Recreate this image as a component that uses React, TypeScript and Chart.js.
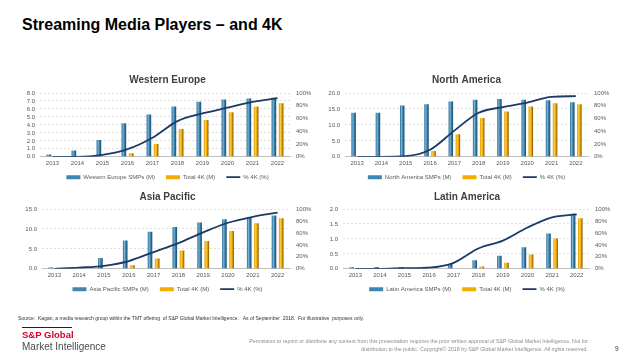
import React, { useEffect, useRef } from 'react';
import { Chart, registerables } from 'chart.js';

Chart.register(...registerables);

const FONT = "'Liberation Sans', Arial, Helvetica, sans-serif";
Chart.defaults.font.family = FONT;

// ---------- data ----------
const years = ['2013', '2014', '2015', '2016', '2017', '2018', '2019', '2020', '2021', '2022'];

const weSmp = [0.3, 0.8, 2.1, 4.2, 5.3, 6.3, 6.9, 7.2, 7.3, 7.4];
const we4k = [0, 0, 0.05, 0.45, 1.6, 3.5, 4.6, 5.6, 6.3, 6.7];
const wePct = [0, 0, 3, 12, 30, 56, 68, 77, 86, 92];

const naSmp = [13.8, 13.8, 16.1, 16.5, 17.3, 17.9, 18.1, 17.9, 17.7, 17.1];
const na4k = [0, 0, 0.1, 1.8, 7.1, 12.2, 14.2, 15.8, 16.8, 16.5];
const naPct = [0, 0, 1, 11, 41, 69, 78, 85, 94, 95];

const apSmp = [0.35, 0.1, 2.7, 7.1, 9.3, 10.5, 11.6, 12.4, 13.0, 13.4];
const ap4k = [0, 0, 0.05, 0.9, 2.6, 4.6, 7.0, 9.5, 11.4, 12.7];
const apPct = [0, 2, 5, 13, 28, 43, 61, 77, 87, 94];

const laSmp = [0.05, 0.06, 0.06, 0.07, 0.16, 0.29, 0.44, 0.72, 1.18, 1.84];
const la4k = [0, 0, 0, 0, 0.01, 0.08, 0.2, 0.48, 1.01, 1.69];
const laPct = [0, 0, 1, 2, 10, 34, 47, 69, 86, 91];

// ---------- styles ----------
const CAT_PCT = 0.58;
const BAR_PCT = 0.64;
const BLUE_STOPS = ['#2A6890', '#74B4D8', '#3B82AD', '#1A4766'];
const GOLD_STOPS = ['#D89A00', '#FFCC40', '#F2AA00', '#7A5200'];
const BLUE = '#3F86B1';
const GOLD = '#F2AC00';
const NAVY = '#1B3A66';
const TXT = '#595959';

function barFill(stops: string[], side: number) {
  return (c: any) => {
    const chart = c.chart;
    const xs = chart.scales && chart.scales.x;
    if (!xs || c.type !== 'data' || !chart.chartArea) return stops[2];
    const n = chart.data.labels.length;
    const catW = xs.width / n;
    const chunk = (catW * CAT_PCT) / 2;
    const w = chunk * BAR_PCT;
    const cx = xs.getPixelForValue(c.dataIndex) + (side * chunk) / 2;
    const g = chart.ctx.createLinearGradient(cx - w / 2, 0, cx + w / 2, 0);
    g.addColorStop(0, stops[0]);
    g.addColorStop(0.35, stops[1]);
    g.addColorStop(0.6, stops[2]);
    g.addColorStop(1, stops[3]);
    return g;
  };
}

// moves the legend up, closer to the axis labels
const legendShift = {
  id: 'legendShift',
  afterLayout(chart: any, _args: any, opts: any) {
    const l = chart.legend;
    if (l) {
      l.top -= opts.dy || 0;
      l.bottom -= opts.dy || 0;
    }
  },
};

type PanelProps = {
  title: string;
  smpLabel: string;
  smp: number[];
  k4: number[];
  pct: number[];
  yMax: number;
  yStep: number;
  left: number;
  top: number;
  width: number;
  height: number;
  yW: number;
  titlePad: number;
};

function Panel(p: PanelProps) {
  const ref = useRef<HTMLCanvasElement>(null);
  useEffect(() => {
    if (!ref.current) return;
    const solid = [BLUE, GOLD, NAVY];
    const chart = new Chart(ref.current, {
      type: 'bar',
      plugins: [legendShift],
      data: {
        labels: years,
        datasets: [
          {
            type: 'bar',
            label: p.smpLabel,
            data: p.smp,
            backgroundColor: barFill(BLUE_STOPS, -1) as any,
            borderWidth: 0,
            categoryPercentage: CAT_PCT,
            barPercentage: BAR_PCT,
            yAxisID: 'y',
            order: 1,
            pointStyle: 'rect',
          } as any,
          {
            type: 'bar',
            label: 'Total 4K (M)',
            data: p.k4,
            backgroundColor: barFill(GOLD_STOPS, 1) as any,
            borderWidth: 0,
            categoryPercentage: CAT_PCT,
            barPercentage: BAR_PCT,
            yAxisID: 'y',
            order: 2,
            pointStyle: 'rect',
          } as any,
          {
            type: 'line',
            label: '% 4K (%)',
            data: p.pct,
            borderColor: NAVY,
            backgroundColor: NAVY,
            borderWidth: 1.8,
            pointRadius: 0,
            cubicInterpolationMode: 'monotone',
            yAxisID: 'y1',
            order: 0,
            pointStyle: 'line',
          } as any,
        ],
      },
      options: {
        responsive: false,
        animation: false,
        events: [],
        layout: { padding: 0 },
        plugins: {
          legendShift: { dy: 6.8 },
          title: {
            display: true,
            text: p.title,
            color: '#404040',
            font: { size: 10, weight: 'bold', family: FONT },
            padding: { top: 0, bottom: p.titlePad },
          },
          legend: {
            position: 'bottom',
            labels: {
              color: TXT,
              font: { size: 6, family: FONT },
              usePointStyle: true,
              pointStyleWidth: 14,
              boxHeight: 4,
              padding: 11,
              sort: (a: any, b: any) => a.datasetIndex - b.datasetIndex,
              generateLabels: (ch: any) => {
                const items = Chart.defaults.plugins.legend.labels.generateLabels(ch);
                return items.map((it: any) => {
                  const i = it.datasetIndex;
                  if (i < 2) {
                    it.fillStyle = solid[i];
                    it.strokeStyle = solid[i];
                    it.lineWidth = 0;
                  } else {
                    it.strokeStyle = NAVY;
                    it.lineWidth = 1.8;
                  }
                  it.fontColor = TXT;
                  return it;
                });
              },
            },
          },
          tooltip: { enabled: false },
        },
        scales: {
          x: {
            type: 'category',
            grid: { display: false, drawTicks: false },
            border: { display: true, color: '#BFBFBF', width: 1 },
            ticks: {
              color: TXT,
              font: { size: 6, family: FONT },
              padding: 3,
              maxRotation: 0,
              autoSkip: false,
            },
          },
          y: {
            position: 'left',
            min: 0,
            max: p.yMax,
            grid: { color: '#D9D9D9', lineWidth: 0.8, drawTicks: false },
            border: { display: false, dash: [2, 2] },
            ticks: {
              stepSize: p.yStep,
              autoSkip: false,
              color: TXT,
              font: { size: 6, family: FONT },
              padding: 5,
              callback: (v: any) => Number(v).toFixed(1),
            },
            afterFit: (s: any) => {
              s.width = p.yW;
            },
          },
          y1: {
            position: 'right',
            min: 0,
            max: 100,
            grid: { drawOnChartArea: false, drawTicks: false },
            border: { display: false },
            ticks: {
              stepSize: 20,
              autoSkip: false,
              color: TXT,
              font: { size: 6, family: FONT },
              padding: 6,
              callback: (v: any) => `${v}%`,
            },
            afterFit: (s: any) => {
              s.width = 25;
            },
          },
        },
      } as any,
    });
    return () => chart.destroy();
  }, []);
  return (
    <canvas
      ref={ref}
      width={p.width}
      height={p.height}
      style={{ position: 'absolute', left: p.left, top: p.top, width: p.width, height: p.height }}
    />
  );
}

export default function App() {
  return (
    <div
      style={{
        position: 'fixed',
        left: 0,
        top: 0,
        width: 640,
        height: 360,
        background: '#fff',
        overflow: 'hidden',
        fontFamily: FONT,
      }}
    >
      <div
        style={{
          position: 'absolute',
          left: 22,
          top: 16.5,
          fontSize: 16,
          lineHeight: '16px',
          fontWeight: 'bold',
          color: '#000',
          whiteSpace: 'nowrap',
        }}
      >
        Streaming Media Players – and 4K
      </div>

      <Panel title="Western Europe" smpLabel="Western Europe SMPs (M)" smp={weSmp} k4={we4k} pct={wePct}
        yMax={8} yStep={1} left={20} top={74} width={295} height={123} yW={20} titlePad={7} />
      <Panel title="North America" smpLabel="North America SMPs (M)" smp={naSmp} k4={na4k} pct={naPct}
        yMax={20} yStep={5} left={320} top={74} width={293} height={123} yW={25} titlePad={7} />
      <Panel title="Asia Pacific" smpLabel="Asia Pacific SMPs (M)" smp={apSmp} k4={ap4k} pct={apPct}
        yMax={15} yStep={5} left={20} top={191} width={295} height={118} yW={22} titlePad={6} />
      <Panel title="Latin America" smpLabel="Latin America SMPs (M)" smp={laSmp} k4={la4k} pct={laPct}
        yMax={2} yStep={0.5} left={320} top={191} width={294} height={118} yW={23} titlePad={6} />

      <div style={{ position: 'absolute', left: 18, top: 315, fontSize: 5, lineHeight: '6px', color: '#333', whiteSpace: 'pre' }}>
        {'Source:  Kagan, a media research group within the TMT offering  of S&P Global Market Intelligence.   As of September  2018.  For illustrative  purposes only.'}
      </div>
      <div style={{ position: 'absolute', left: 22, top: 326.5, width: 50, height: 1.5, background: '#222' }} />
      <div style={{ position: 'absolute', left: 22, top: 329, fontSize: 9.5, lineHeight: '11px', fontWeight: 'bold', color: '#D6002A', whiteSpace: 'nowrap' }}>
        S&amp;P Global
      </div>
      <div style={{ position: 'absolute', left: 22, top: 340.5, fontSize: 10, lineHeight: '12px', color: '#4A4A4A', whiteSpace: 'nowrap' }}>
        Market Intelligence
      </div>
      <div style={{ position: 'absolute', right: 52, top: 336.5, fontSize: 5.3, lineHeight: '8px', color: '#8C8C8C', textAlign: 'right', whiteSpace: 'nowrap' }}>
        Permission to reprint or distribute any content from this presentation requires the prior written approval of S&amp;P Global Market Intelligence. Not for
        <br />
        distribution to the public. Copyright© 2018 by S&amp;P Global Market Intelligence. All rights reserved.
      </div>
      <div style={{ position: 'absolute', left: 615, top: 345, fontSize: 6.5, lineHeight: '8px', color: '#333' }}>9</div>
    </div>
  );
}
